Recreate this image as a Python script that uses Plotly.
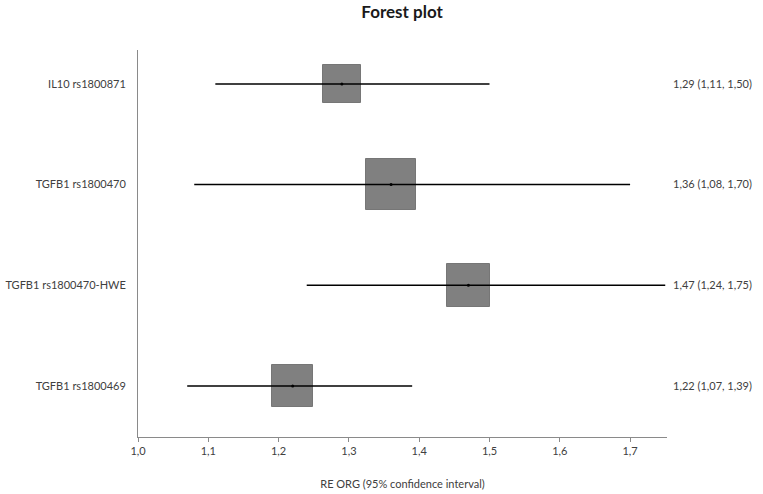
"""Forest plot of random-effects odds ratios with 95% confidence intervals."""

import plotly.graph_objects as go

# Data (top row first)
labels = ['IL10 rs1800871', 'TGFB1 rs1800470', 'TGFB1 rs1800470-HWE', 'TGFB1 rs1800469']
estimate = [1.29, 1.36, 1.47, 1.22]
ci_low = [1.11, 1.08, 1.24, 1.07]
ci_high = [1.50, 1.70, 1.75, 1.39]
x_ticks = [1.0, 1.1, 1.2, 1.3, 1.4, 1.5, 1.6, 1.7]

# Box sizes (style only): width in OR units, height in row units
box_w = [0.054, 0.071, 0.060, 0.058]
box_h = [0.38, 0.50, 0.43, 0.41]

ypos = list(range(len(labels) - 1, -1, -1))


def fmt(v):
    return f'{v:.2f}'.replace('.', ',')


right_text = [f'{fmt(e)} ({fmt(l)}, {fmt(h)})' for e, l, h in zip(estimate, ci_low, ci_high)]

fig = go.Figure()

# Weight boxes
fig.add_trace(go.Bar(y=ypos, x=box_w, base=[e - w / 2 for e, w in zip(estimate, box_w)],
                     orientation='h', width=box_h,
                     marker=dict(color='#808080', line=dict(color='#767676', width=1)),
                     hoverinfo='skip', showlegend=False))

# Confidence intervals and point estimates
fig.add_trace(go.Scatter(x=estimate, y=ypos, mode='markers',
                         marker=dict(color='black', size=3),
                         error_x=dict(type='data', symmetric=False,
                                      array=[h - e for e, h in zip(estimate, ci_high)],
                                      arrayminus=[e - l for e, l in zip(estimate, ci_low)],
                                      color='black', thickness=1.5, width=0),
                         showlegend=False))

# Invisible trace for the right-hand axis
fig.add_trace(go.Scatter(x=estimate, y=ypos, mode='markers', marker=dict(opacity=0),
                         yaxis='y2', hoverinfo='skip', showlegend=False))

font_family = 'Lato, Calibri, sans-serif'
text_color = '#404040'
yrange = [-0.507, 3.337]

fig.update_layout(
    width=763, height=494,
    margin=dict(l=138, r=96, t=50, b=57, autoexpand=False),
    plot_bgcolor='white', paper_bgcolor='white',
    separators=',.',
    font=dict(family=font_family, size=11, color=text_color),
    title=dict(text='<b>Forest plot</b>', x=0.527, xanchor='center', y=0.975, yanchor='middle',
               font=dict(family=font_family, size=17, color='#1a1a1a')),
    bargap=0,
    xaxis=dict(range=[1.0, 1.7525], tickvals=x_ticks, tickformat='.1f', automargin=False,
               showline=True, linecolor='#8a8a8a', linewidth=1,
               ticks='outside', ticklen=4, tickcolor='#8a8a8a',
               showgrid=False, zeroline=False,
               tickfont=dict(size=11, color=text_color),
               title=dict(text='RE ORG (95% confidence interval)', standoff=24,
                          font=dict(size=11, color=text_color))),
    yaxis=dict(range=yrange, tickvals=ypos, ticktext=labels, automargin=False,
               showline=True, linecolor='#8a8a8a', linewidth=1,
               ticks='', showgrid=False, zeroline=False, ticklabelstandoff=9,
               tickfont=dict(size=11, color=text_color)),
    yaxis2=dict(range=yrange, tickvals=ypos, ticktext=right_text, overlaying='y', side='right',
                automargin=False, showline=False, ticks='', showgrid=False, zeroline=False,
                ticklabelstandoff=5, tickfont=dict(size=11, color=text_color)),
)

# Drop the default page margin so the figure sits at the window's top-left corner
fig.write_html('out.html', config={'displayModeBar': False},
               post_script="document.body.style.margin = '0';")
